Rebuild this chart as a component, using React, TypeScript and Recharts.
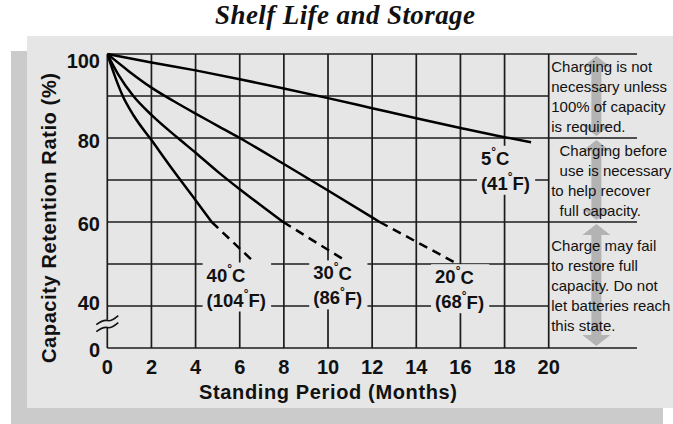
import React from "react";
import {
  Label,
  Line,
  LineChart,
  ReferenceArea,
  ReferenceDot,
  ReferenceLine,
  XAxis,
  YAxis
} from "recharts";

const W = 673;
const H = 424;
const INK = "#111";
const GRID = "#1c1c1c";
const PANEL = "#e6e6e6";
const SHADOW = "#cbcbcb";
const ARROW = "#b3b3b3";
const SANS = "'Liberation Sans', Arial, Helvetica, sans-serif";
const NARROW = "'Liberation Sans Narrow', 'Arial Narrow', sans-serif";

// axes
const X_TICKS = [0, 2, 4, 6, 8, 10, 12, 14, 16, 18, 20];
const Y_GRID = [30, 40, 50, 60, 70, 80, 90, 100];
const Y_TICK_TEXT: Record<number, string> = { 30: "0", 40: "40", 60: "60", 80: "80", 100: "100" };
const ZONE_BOUNDS = [100, 80, 60, 30];

// curves (solid part, then dashed extrapolation)
const MONTHS_5C = [0, 2, 4, 6, 8, 10, 12, 14, 16, 18, 19.2];
const RATIO_5C = [100, 98, 96.1, 94, 91.8, 89.5, 87.1, 84.7, 82.4, 80.2, 79];
const MONTHS_20C = [0, 1, 2, 3, 4, 5, 6, 8, 10, 12, 12.34];
const RATIO_20C = [100, 95.8, 92, 88.8, 85.8, 82.9, 80, 73.8, 67.5, 61.1, 60];
const MONTHS_20C_DASH = [12.34, 15.7];
const RATIO_20C_DASH = [60, 50.5];
const MONTHS_30C = [0, 0.5, 1.18, 2, 3.2, 4, 5, 6, 7, 7.97];
const RATIO_30C = [100, 95.1, 90, 85.5, 80, 76.5, 72, 67.8, 63.8, 60];
const MONTHS_30C_DASH = [7.97, 10.76];
const RATIO_30C_DASH = [60, 50.9];
const MONTHS_40C = [0, 0.35, 0.7, 1.2, 2, 3, 4, 4.73];
const RATIO_40C = [100, 94.6, 90, 85.3, 79.5, 72.2, 65.2, 60];
const MONTHS_40C_DASH = [4.73, 6.54];
const RATIO_40C_DASH = [60, 51];

// curve labels
const CELSIUS = ["40°C", "30°C", "20°C", "5°C"];
const FAHRENHEIT = ["(104°F)", "(86°F)", "(68°F)", "(41°F)"];
const LABEL_MONTH = [4.5, 9.33, 14.85, 16.93];
const LABEL_RATIO = [44.4, 44.9, 44.0, 72.2];

// right hand notes
const NOTE_TOP = [100, 80, 60];
const NOTE_BOTTOM = [80, 60, 30];
const NOTES = [
  ["Charging is not", "necessary unless", "100% of capacity", "is required."],
  ["  Charging before", "  use is necessary", "to help recover", "  full capacity."],
  ["Charge may fail", "to restore full", "capacity. Do not", "let batteries reach", "this state."]
];

const zip = (xs: number[], ys: number[]) => xs.map((m, i) => ({ m, v: ys[i] }));

const SOLID = [
  zip(MONTHS_5C, RATIO_5C),
  zip(MONTHS_20C, RATIO_20C),
  zip(MONTHS_30C, RATIO_30C),
  zip(MONTHS_40C, RATIO_40C)
];
const DASHED = [
  zip(MONTHS_20C_DASH, RATIO_20C_DASH),
  zip(MONTHS_30C_DASH, RATIO_30C_DASH),
  zip(MONTHS_40C_DASH, RATIO_40C_DASH)
];

const AXIS_SIZE = 20;
const LABEL_SIZE = 18.5;
const CHAR_W: Record<string, number> = { "(": 0.333, ")": 0.333, C: 0.722, F: 0.611 };
const labelWidth = (s: string) =>
  s.split("").reduce((w, c) => w + (c === "°" ? 5 : (CHAR_W[c] ?? 0.556) * LABEL_SIZE), 0);

function DegText({ x, y, text }: { x: number; y: number; text: string }) {
  const [a, b] = text.split("°");
  return (
    <text x={x} y={y} fontFamily={SANS} fontWeight={700} fontSize={LABEL_SIZE} fill={INK} dominantBaseline="central">
      {a}
      <tspan fontSize={12} dy={-6}>°</tspan>
      <tspan dy={6}>{b}</tspan>
    </text>
  );
}

function TempLabel(props: any) {
  const { cx, cy, top, bottom } = props;
  const w = Math.max(labelWidth(top), labelWidth(bottom));
  return (
    <g>
      <rect x={cx - 4} y={cy - 25} width={w + 9} height={49} fill={PANEL} />
      <DegText x={cx} y={cy - 12.5} text={top} />
      <DegText x={cx} y={cy + 12.5} text={bottom} />
    </g>
  );
}

function NoteZone(props: any) {
  const { x, y, width, height, lines } = props;
  const cx = x + width * 0.54;
  const t = y + 2;
  const b = y + height - 2;
  const sw = 5;
  const hw = 14;
  const hh = 11;
  const pts = [
    [cx, t], [cx + hw, t + hh], [cx + sw, t + hh], [cx + sw, b - hh], [cx + hw, b - hh],
    [cx, b], [cx - hw, b - hh], [cx - sw, b - hh], [cx - sw, t + hh], [cx - hw, t + hh]
  ].map((p) => p.join(",")).join(" ");
  const y0 = y + height / 2 - ((lines.length - 1) * 20) / 2;
  return (
    <g>
      <polygon points={pts} fill={ARROW} />
      {lines.map((s: string, i: number) => (
        <text
          key={i}
          x={x + 2.5}
          y={y0 + i * 20}
          fontFamily={NARROW}
          fontSize={15}
          fill={INK}
          dominantBaseline="central"
          style={{ whiteSpace: "pre" }}
        >
          {s}
        </text>
      ))}
    </g>
  );
}

function AxisBreak(props: any) {
  const { cx, cy } = props;
  const wave = (dy: number) =>
    `M${cx - 11},${cy + 4 + dy} Q${cx - 4},${cy - 1 + dy} ${cx},${cy + dy} T${cx + 11},${cy - 5 + dy}`;
  return (
    <g>
      <polygon
        points={`${cx - 11},${cy} ${cx + 11},${cy - 8} ${cx + 11},${cy - 1} ${cx - 11},${cy + 7}`}
        fill={PANEL}
      />
      <path d={wave(-3.5)} stroke={INK} strokeWidth={1.6} fill="none" />
      <path d={wave(3.5)} stroke={INK} strokeWidth={1.6} fill="none" />
    </g>
  );
}

// the printed tick numbers do not sit exactly on their grid lines
function YTick(props: any) {
  const { x, y, payload } = props;
  const v = payload.value as number;
  const text = Y_TICK_TEXT[v];
  if (!text) return null;
  const shift = v === 100 ? 7 : v === 40 ? -3 : v === 80 ? 3 : 1.5;
  return (
    <text
      x={x}
      y={y + shift}
      textAnchor="end"
      dominantBaseline="central"
      fontFamily={SANS}
      fontWeight={700}
      fontSize={AXIS_SIZE}
      fill={INK}
    >
      {text}
    </text>
  );
}

export default function App() {
  return (
    <div style={{ position: "absolute", left: 0, top: 0, width: W, height: H, background: "#fff", overflow: "hidden" }}>
      <div style={{ position: "absolute", left: 11, top: 51, width: 652, height: 373, background: SHADOW }} />
      <div style={{ position: "absolute", left: 27, top: 36, width: 646, height: 372, background: PANEL }} />
      <svg width={W} height={40} style={{ position: "absolute", left: 0, top: 0 }}>
        <text
          x={345}
          y={24}
          textAnchor="middle"
          fontFamily="'Liberation Serif', 'Times New Roman', serif"
          fontWeight={700}
          fontStyle="italic"
          fontSize={27}
          fill={INK}
          textLength={260}
        >
          Shelf Life and Storage
        </text>
      </svg>
      <div style={{ position: "absolute", left: 0, top: 0 }}>
        <LineChart width={W} height={H} margin={{ top: 54, right: 36, left: 0, bottom: 0 }}>
          <XAxis
            type="number"
            dataKey="m"
            domain={[0, 24]}
            ticks={X_TICKS}
            height={76}
            axisLine={false}
            tickLine={false}
            tickMargin={6}
            tick={{ fontFamily: SANS, fontWeight: 700, fontSize: AXIS_SIZE, fill: INK }}
            allowDataOverflow
          >
            <Label
              content={(p: any) => (
                <text
                  x={p.viewBox.x + (p.viewBox.width * 10) / 24}
                  y={p.viewBox.y + 50.5}
                  textAnchor="middle"
                  fontFamily={SANS}
                  fontWeight={700}
                  fontSize={AXIS_SIZE}
                  fill={INK}
                  textLength={258}
                >
                  Standing Period (Months)
                </text>
              )}
            />
          </XAxis>
          <YAxis
            type="number"
            dataKey="v"
            domain={[30, 100]}
            ticks={Y_GRID}
            width={107.3}
            axisLine={false}
            tickLine={false}
            tickMargin={1.3}
            tick={<YTick />}
          >
            <Label
              content={(p: any) => (
                <text
                  x={55.5}
                  y={p.viewBox.y + 164}
                  transform={`rotate(-90 55.5 ${p.viewBox.y + 164})`}
                  textAnchor="middle"
                  fontFamily={SANS}
                  fontWeight={700}
                  fontSize={AXIS_SIZE}
                  fill={INK}
                  textLength={290}
                >
                  Capacity Retention Ratio (%)
                </text>
              )}
            />
          </YAxis>

          {X_TICKS.map((m) => (
            <ReferenceLine key={`vx${m}`} x={m} stroke={GRID} strokeWidth={1.7} />
          ))}
          {Y_GRID.map((v) => (
            <ReferenceLine
              key={`hy${v}`}
              segment={[{ x: 0, y: v }, { x: ZONE_BOUNDS.includes(v) ? 24 : 20, y: v }]}
              stroke={GRID}
              strokeWidth={1.7}
            />
          ))}

          {NOTES.map((lines, i) => (
            <ReferenceArea
              key={`note${i}`}
              x1={20}
              x2={24}
              y1={NOTE_BOTTOM[i]}
              y2={NOTE_TOP[i]}
              shape={(p: any) => <NoteZone {...p} lines={lines} />}
            />
          ))}

          <ReferenceDot x={0} y={35.7} r={1} shape={(p: any) => <AxisBreak {...p} />} />

          {CELSIUS.map((c, i) => (
            <ReferenceDot
              key={`lab${i}`}
              x={LABEL_MONTH[i]}
              y={LABEL_RATIO[i]}
              r={1}
              shape={(p: any) => <TempLabel {...p} top={c} bottom={FAHRENHEIT[i]} />}
            />
          ))}

          {SOLID.map((d, i) => (
            <Line
              key={`s${i}`}
              data={d}
              dataKey="v"
              type="monotone"
              stroke="#000"
              strokeWidth={2.5}
              dot={false}
              activeDot={false}
              isAnimationActive={false}
            />
          ))}
          {DASHED.map((d, i) => (
            <Line
              key={`d${i}`}
              data={d}
              dataKey="v"
              type="linear"
              stroke="#000"
              strokeWidth={2.5}
              strokeDasharray="9 6"
              dot={false}
              activeDot={false}
              isAnimationActive={false}
            />
          ))}
        </LineChart>
      </div>
    </div>
  );
}
